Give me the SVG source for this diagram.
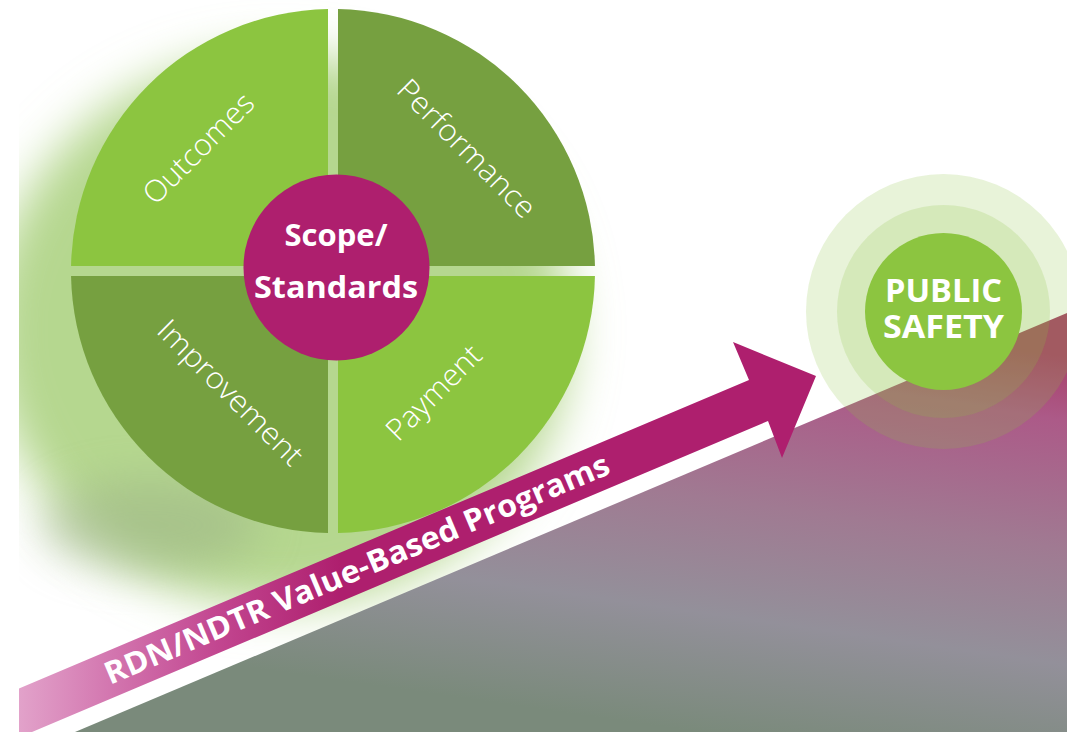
<svg xmlns="http://www.w3.org/2000/svg" width="1067" height="732" viewBox="0 0 1067 732">
<defs>
<style>
.lbl{font-family:"Open Sans","Lato","Liberation Sans",sans-serif;font-weight:300;font-size:30px;fill:#ffffff;text-anchor:middle}
.bold{font-family:"Open Sans","Liberation Sans",sans-serif;font-weight:700;fill:#ffffff;text-anchor:middle}
.light{fill:#8cc540}
.dark{fill:#76a040}
</style>
<clipPath id="page"><rect x="19" y="0" width="1048" height="732"/></clipPath>
<filter id="blur" x="-50%" y="-50%" width="200%" height="200%"><feGaussianBlur stdDeviation="24"/></filter>
<filter id="blur2" x="-50%" y="-50%" width="200%" height="200%"><feGaussianBlur stdDeviation="22"/></filter>
<linearGradient id="regionGrad" gradientUnits="userSpaceOnUse" x1="760" y1="313" x2="700" y2="732">
<stop offset="0" stop-color="#a8406a"/>
<stop offset="0.15" stop-color="#ac5a88"/>
<stop offset="0.45" stop-color="#a07a92"/>
<stop offset="0.72" stop-color="#93909a"/>
<stop offset="1" stop-color="#7a8a7b"/>
</linearGradient>
<linearGradient id="bandGrad" gradientUnits="userSpaceOnUse" x1="19" y1="0" x2="340" y2="0">
<stop offset="0" stop-color="#e2a2ca"/>
<stop offset="0.3" stop-color="#d274ae"/>
<stop offset="0.62" stop-color="#c24690"/>
<stop offset="1" stop-color="#ae1f6e"/>
</linearGradient>
</defs>

<g id="background" clip-path="url(#page)">
<ellipse cx="280" cy="330" rx="290" ry="275" fill="#b5d78f" filter="url(#blur)"/>
<ellipse cx="150" cy="525" rx="110" ry="45" fill="#9db487" opacity="0.55" filter="url(#blur2)"/>
</g>

<g id="region">
<polygon points="75,732 1067,313 1067,732" fill="url(#regionGrad)"/>
</g>

<g id="wheel">
<g id="outcomes">
<path class="light" d="M328,266 L328,9.05 A262,262 0 0 0 71.05,266 Z"/>
<text class="lbl" transform="translate(198,148) rotate(-45)" y="11" textLength="143" lengthAdjust="spacingAndGlyphs">Outcomes</text>
</g>
<g id="performance">
<path class="dark" d="M338,266 L338,9.05 A262,262 0 0 1 594.95,266 Z"/>
<text class="lbl" transform="translate(467,148) rotate(45)" y="11" textLength="182" lengthAdjust="spacingAndGlyphs">Performance</text>
</g>
<g id="payment">
<path class="light" d="M338,276 L594.95,276 A262,262 0 0 1 338,532.95 Z"/>
<text class="lbl" transform="translate(436,395) rotate(-45)" y="7" textLength="121" lengthAdjust="spacingAndGlyphs">Payment</text>
</g>
<g id="improvement">
<path class="dark" d="M328,276 L328,532.95 A262,262 0 0 1 71.05,276 Z"/>
<text class="lbl" transform="translate(228,395) rotate(45)" y="7" textLength="192" lengthAdjust="spacingAndGlyphs">Improvement</text>
</g>
</g>

<g id="scope-standards">
<circle cx="336.5" cy="267.5" r="93" fill="#ae1f6e"/>
<text class="bold" x="336" y="246" font-size="31">Scope/</text>
<text class="bold" x="336" y="298" font-size="31" textLength="164" lengthAdjust="spacingAndGlyphs">Standards</text>
</g>

<g id="connectors">
<polygon points="19,688.4 749,380 733,342 816,376 782,458 768,421 19,737.5" fill="url(#bandGrad)"/>
<text class="bold" transform="translate(110,685) rotate(-22.9)" font-size="31" style="text-anchor:start" textLength="545" lengthAdjust="spacingAndGlyphs">RDN/NDTR Value-Based Programs</text>
</g>

<g id="public-safety">
<circle cx="943.5" cy="311.5" r="137.5" fill="#8cc540" opacity="0.2"/>
<circle cx="943.5" cy="311.5" r="106.5" fill="#8cc540" opacity="0.2"/>
<circle cx="943.5" cy="311.5" r="78.5" fill="#8cc540"/>
<text class="bold" x="943.5" y="302" font-size="32" textLength="117" lengthAdjust="spacingAndGlyphs">PUBLIC</text>
<text class="bold" x="943.5" y="338" font-size="32" textLength="121" lengthAdjust="spacingAndGlyphs">SAFETY</text>
</g>
</svg>
